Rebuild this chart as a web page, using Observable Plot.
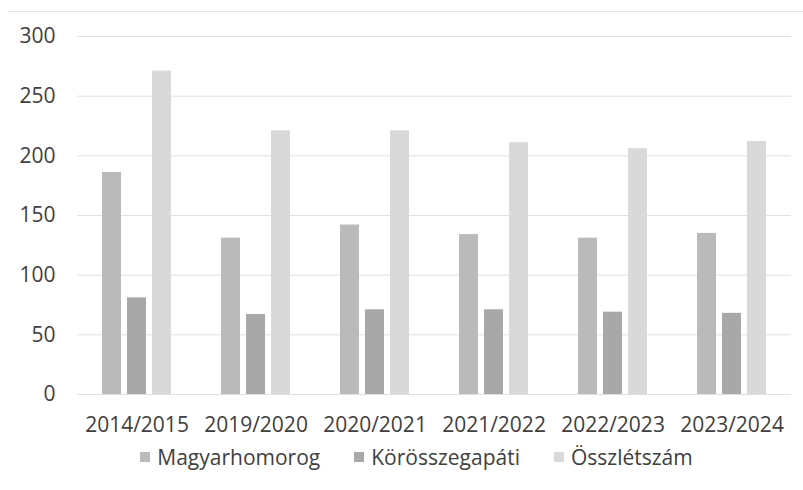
<!DOCTYPE html>
<html>
<head>
<meta charset="utf-8">
<script src="https://cdn.jsdelivr.net/npm/d3@7"></script>
<script src="https://cdn.jsdelivr.net/npm/@observablehq/plot@0.6"></script>
<style>
  html, body { margin: 0; padding: 0; background: #fff; }
  #wrap { width: 803px; height: 490px; position: relative; font-family: "Open Sans", Lato, sans-serif; color: #404040; }
  #topline { position: absolute; left: 8px; right: 0; top: 11px; height: 1px; background: #e6e6e6; }
  #legend { display: flex; justify-content: center; align-items: center; gap: 34px; font-size: 21px; line-height: 30px; margin-left: 30px; margin-top: 2px; }
  #legend .item { display: flex; align-items: center; gap: 7px; }
  #legend .sw { width: 10px; height: 10px; display: inline-block; }
</style>
</head>
<body>
<div id="wrap"><div id="topline"></div></div>
<script>
const years = ["2014/2015", "2019/2020", "2020/2021", "2021/2022", "2022/2023", "2023/2024"];
const seriesNames = ["Magyarhomorog", "Körösszegapáti", "Összlétszám"];
const magyarhomorog = [186, 131, 142, 134, 131, 135];
const korosszegapati = [81, 67, 71, 71, 69, 68];
const osszletszam = [271, 221, 221, 211, 206, 212];
const yTicks = [0, 50, 100, 150, 200, 250, 300];
const colors = ["#bababa", "#a8a8a8", "#d9d9d9"];

const seriesValues = [magyarhomorog, korosszegapati, osszletszam];
const data = [];
years.forEach((yr, i) => {
  seriesNames.forEach((s, j) => data.push({year: yr, series: s, value: seriesValues[j][i]}));
});

const chart = Plot.plot({
  width: 803,
  height: 440,
  marginLeft: 74,
  marginRight: 10,
  marginTop: 36,
  marginBottom: 46,
  style: {fontFamily: "'Open Sans', Lato, sans-serif", fontSize: "21px", color: "#404040", background: "white", overflow: "visible"},
  y: {domain: [0, 300], label: null},
  fx: {domain: years, padding: 0, label: null},
  x: {domain: seriesNames, paddingInner: 0.23, paddingOuter: 0.92, axis: null},
  color: {domain: seriesNames, range: colors},
  marks: [
    Plot.gridY(yTicks, {stroke: "#e0e0e0", strokeOpacity: 1}),
    Plot.barY(data, {fx: "year", x: "series", y: "value", fill: "series"}),
    Plot.axisY(yTicks, {tickSize: 0, tickPadding: 22, label: null, fill: "#404040"}),
    Plot.axisFx({anchor: "bottom", tickSize: 0, tickPadding: 23, label: null, fill: "#404040"})
  ]
});

const wrap = document.getElementById("wrap");
wrap.appendChild(chart);

const legend = document.createElement("div");
legend.id = "legend";
seriesNames.forEach((s, i) => {
  const item = document.createElement("span");
  item.className = "item";
  const sw = document.createElement("span");
  sw.className = "sw";
  sw.style.background = colors[i];
  const t = document.createElement("span");
  t.textContent = s;
  item.appendChild(sw);
  item.appendChild(t);
  legend.appendChild(item);
});
wrap.appendChild(legend);
</script>
</body>
</html>
